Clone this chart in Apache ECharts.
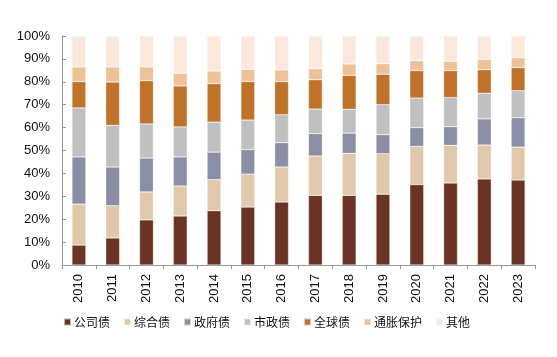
<!DOCTYPE html>
<html><head><meta charset="utf-8">
<script src="https://cdn.jsdelivr.net/npm/echarts@6/dist/echarts.min.js"></script>
<style>html,body{margin:0;padding:0;background:#fff}#c{width:557px;height:357px}</style>
</head><body><div id="c"></div>
<script>
var years = ['2010','2011','2012','2013','2014','2015','2016','2017','2018','2019','2020','2021','2022','2023'];
var seriesNames = ['公司债','综合债','政府债','市政债','全球债','通胀保护','其他'];
var corporate = [8.7,11.8,19.7,21.4,23.7,25.3,27.5,30.4,30.4,30.9,35.1,35.8,37.6,37.1];
var composite = [17.9,14.1,12.2,13.1,13.6,14.4,15.3,17.2,18.4,17.7,16.7,16.5,14.8,14.4];
var government = [20.6,16.9,14.8,12.7,12.0,10.7,10.6,9.8,8.8,8.3,8.2,8.1,11.4,12.8];
var municipal = [21.4,18.2,14.9,13.1,13.1,12.9,12.2,10.7,10.4,13.1,12.9,12.7,11.2,11.8];
var globalBond = [11.5,18.9,18.9,17.9,16.8,16.8,14.5,12.8,14.8,13.3,12.0,11.8,10.3,10.1];
var inflation = [6.4,6.6,6.0,5.5,5.5,5.3,5.1,4.8,5.0,4.6,4.3,4.0,4.5,4.3];
var other = [13.5,13.5,13.5,16.3,15.3,14.6,14.8,14.3,12.2,12.1,10.8,11.1,10.2,9.5];
var yTicks = ['0%','10%','20%','30%','40%','50%','60%','70%','80%','90%','100%'];

var colors = ['#6B3323','#E0C9AB','#8A8FA5','#BFC0C2','#C07228','#EEC297','#FAE8DD'];
var allData = [corporate, composite, government, municipal, globalBond, inflation, other];
var chart = echarts.init(document.getElementById('c'));
chart.setOption({
  animation: false,
  textStyle: {fontFamily: '"Noto Sans CJK SC", "Liberation Sans", Arial, sans-serif'},
  grid: {left: 62, right: 22, top: 36, bottom: 92},
  legend: {
    top: 316, left: 63, padding: 0, itemWidth: 7, itemHeight: 7, itemGap: 13,
    icon: 'rect',
    textStyle: {fontSize: 12, color: '#111', padding: [0,0,0,-2]},
    data: seriesNames
  },
  xAxis: {
    type: 'category', data: years,
    axisLine: {lineStyle: {color: '#999'}},
    axisTick: {show: true, alignWithLabel: false, length: 4, lineStyle: {color: '#999'}},
    axisLabel: {rotate: 90, color: '#111', fontSize: 13, fontFamily: '"Liberation Sans", Arial, sans-serif', margin: 9}
  },
  yAxis: {
    type: 'value', min: 0, max: 100, interval: 10,
    axisLine: {show: true, lineStyle: {color: '#999'}},
    axisTick: {show: true, inside: true, lineStyle: {color: '#999'}, length: 4},
    splitLine: {show: false},
    axisLabel: {color: '#111', fontSize: 13, fontFamily: '"Liberation Sans", Arial, sans-serif', margin: 12,
      formatter: function(v){ return yTicks[Math.round(v/10)]; }}
  },
  series: seriesNames.map(function(n, i){
    return {
      name: n, type: 'bar', stack: 'total', barWidth: '41%',
      itemStyle: {color: colors[i], borderColor: 'rgba(255,255,255,0.6)', borderWidth: 0.5},
      data: allData[i]
    };
  }),
  color: colors
});
</script></body></html>
